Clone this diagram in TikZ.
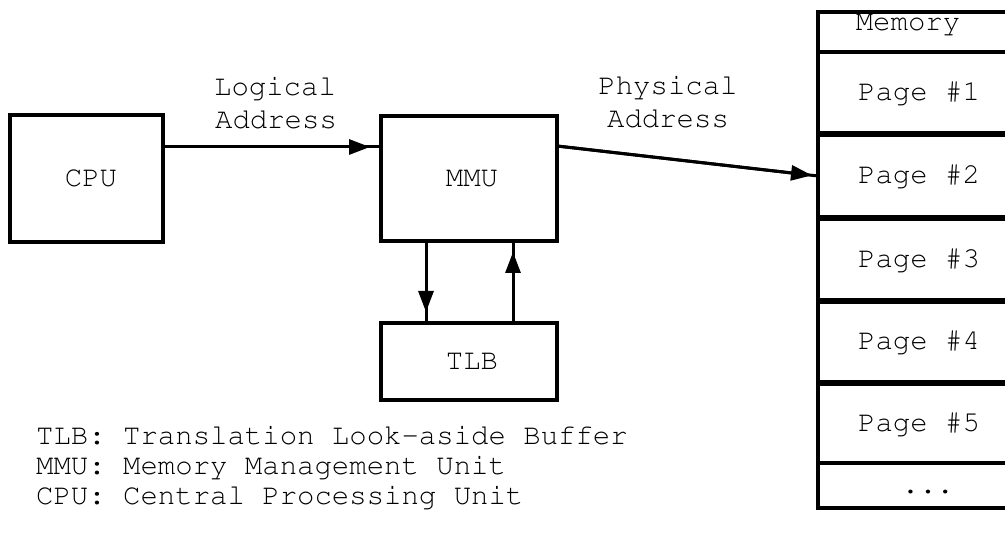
\documentclass[tikz,border=0pt]{standalone}
\usepackage[T1]{fontenc}
\usepackage{courier}
\usetikzlibrary{arrows.meta}
\begin{document}
\begin{tikzpicture}[x=1pt,y=-1pt,
  txt/.style={font=\ttfamily\fontsize{29}{31}\selectfont},
  box/.style={draw, line width=3.5pt, inner sep=0pt, outer sep=0pt, txt,
              text height=16pt, text depth=0pt},
  cell/.style={box, anchor=north west, minimum width=202pt},
  lbl/.style={inner sep=0pt, txt, anchor=base},
  conn/.style={line width=3pt},
  tip/.style={line width=3pt, shorten >=11pt, -{Triangle[length=21pt,width=15pt]}},
  sep/.style={line width=6.5pt}]
\clip (0,0) rectangle (1005,540);

% processing blocks (text set slightly right of centre)
\node[box, minimum width=153pt, minimum height=127pt] (cpu) at (86.5,178.5) {\kern9pt CPU};
\node[box, minimum width=176pt, minimum height=125pt] (mmu) at (469,178.5) {\kern6pt MMU};
\node[box, minimum width=176pt, minimum height=77pt]  (tlb) at (469,361.5) {\kern6pt TLB};

% memory column
\node[cell, minimum height=40pt] (hdr) at (818,12) {};
\node[lbl] (memlbl) at (908,31) {Memory};
\node[cell, minimum height=82pt] (p1) at (818,52)  {Page \#1};
\node[cell, minimum height=84pt] (p2) at (818,134) {Page \#2};
\node[cell, minimum height=83pt] (p3) at (818,218) {Page \#3};
\node[cell, minimum height=82pt] (p4) at (818,301) {Page \#4};
\node[cell, minimum height=80pt] (p5) at (818,383) {Page \#5};
\node[cell, minimum height=45pt] (more) at (818,463) {\kern18pt...};
\draw[sep] (p1.south west) -- (p1.south east);
\draw[sep] (p2.south west) -- (p2.south east);
\draw[sep] (p3.south west) -- (p3.south east);
\draw[sep] (p4.south west) -- (p4.south east);
\draw[line width=4.5pt] (hdr.north west) -- (more.south west);

% connection points on the block borders
\path (cpu.north east) ++(0,32) coordinate (cpuout);
\path (mmu.north east) ++(0,30) coordinate (mmuout);
\path (mmu.south west) ++(45,0) coordinate (mmudown);
\path (mmu.south west) ++(132,0) coordinate (mmuup);

% logical address: CPU -> MMU
\draw[conn] (cpuout) -- (cpuout -| mmu.west);
\draw[tip] (cpuout) -- (cpuout -| mmu.west);
\node[lbl] (la1) at (275,96)  {Logical};
\node[lbl] (la2) at (276,129) {Address};

% physical address: MMU -> page
\draw[conn] (mmuout) -- (p2.west);
\draw[tip, shorten >=6pt] (mmuout) -- (p2.west);
\node[lbl] (pa1) at (668,95)  {Physical};
\node[lbl] (pa2) at (668,128) {Address};

% MMU <-> TLB lookup
\draw[conn] (mmudown) -- (mmudown |- tlb.north);
\draw[tip] (mmudown) -- (mmudown |- tlb.north);
\draw[conn] (mmuup |- tlb.north) -- (mmuup);
\draw[tip] (mmuup |- tlb.north) -- (mmuup);

% legend
\node[lbl, anchor=base west] (leg1) at (36,444) {TLB: Translation Look-aside Buffer};
\node[lbl, anchor=base west] (leg2) at (36,474) {MMU: Memory Management Unit};
\node[lbl, anchor=base west] (leg3) at (36,504) {CPU: Central Processing Unit};
\end{tikzpicture}
\end{document}
